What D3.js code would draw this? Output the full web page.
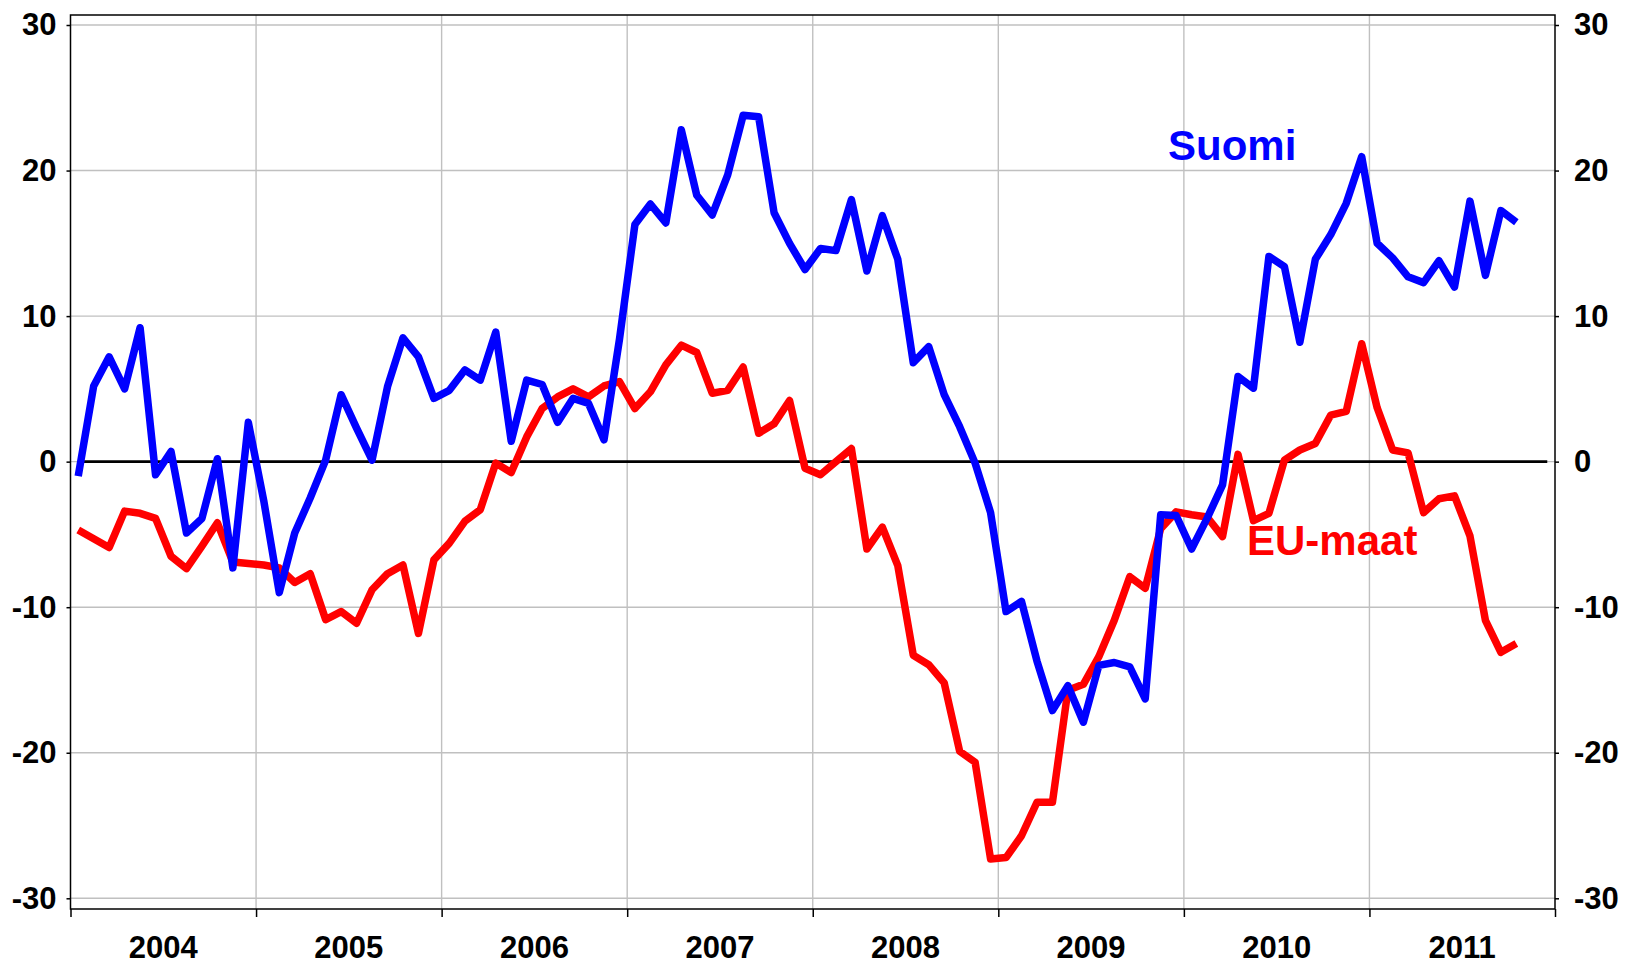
<!DOCTYPE html>
<html>
<head>
<meta charset="utf-8">
<script src="https://cdn.jsdelivr.net/npm/d3@7"></script>
<style>
  body { margin: 0; background: #fff; overflow: hidden; }
  svg { display: block; }
  svg text { font-family: "Liberation Sans", Arial, sans-serif; font-weight: bold; }
</style>
</head>
<body>
<svg id="chart"></svg>
<script>
// monthly values, Jan 2004 - Oct 2011
var suomi = [
  -1.0, 5.2, 7.2, 5.0, 9.2, -0.9, 0.7, -4.9, -3.9, 0.2, -7.3, 2.7,
  -2.7, -9.0, -4.9, -2.5, 0.1, 4.6, 2.3, 0.1, 5.15, 8.5, 7.2, 4.35,
  4.9, 6.3, 5.6, 8.9, 1.4, 5.6, 5.3, 2.7, 4.35, 4.0, 1.5, 8.4,
  16.3, 17.7, 16.4, 22.8, 18.3, 16.95, 19.7, 23.8, 23.7, 17.1, 15.0, 13.2,
  14.65, 14.5, 18.0, 13.1, 16.9, 13.9, 6.8, 7.9, 4.6, 2.4, -0.1, -3.5,
  -10.3, -9.6, -13.7, -17.1, -15.4, -17.9, -14.0, -13.8, -14.1, -16.3, -3.65, -3.7,
  -6.0, -3.9, -1.6, 5.85, 5.05, 14.1, 13.4, 8.2, 13.9, 15.6, 17.75, 20.95,
  15.0, 14.0, 12.7, 12.3, 13.8, 12.0, 17.9, 12.8, 17.25, 16.45
];
var euMaat = [
  -4.7, -5.3, -5.9, -3.4, -3.55, -3.9, -6.5, -7.35, -5.8, -4.2, -6.9, -7.0,
  -7.1, -7.3, -8.3, -7.7, -10.85, -10.3, -11.1, -8.8, -7.7, -7.1, -11.8, -6.75,
  -5.6, -4.1, -3.3, -0.1, -0.75, 1.7, 3.65, 4.45, 5.0, 4.45, 5.2, 5.5,
  3.65, 4.8, 6.65, 8.0, 7.5, 4.7, 4.9, 6.5, 1.95, 2.6, 4.2, -0.45,
  -0.9, 0.0, 0.9, -6.0, -4.5, -7.15, -13.3, -13.95, -15.2, -19.9, -20.65, -27.3,
  -27.2, -25.7, -23.4, -23.4, -15.7, -15.3, -13.4, -10.9, -7.9, -8.7, -4.6, -3.45,
  -3.65, -3.8, -5.15, 0.5, -4.05, -3.55, 0.1, 0.8, 1.25, 3.2, 3.45, 8.1,
  3.7, 0.8, 0.6, -3.5, -2.55, -2.35, -5.1, -10.9, -13.1, -12.5
];
var years = [2004, 2005, 2006, 2007, 2008, 2009, 2010, 2011];
var yTicks = [-30, -20, -10, 0, 10, 20, 30];
var zeroLine = d3.range(96).map(function () { return 0; });

var width = 1636, height = 965;
var plot = { left: 70.5, right: 1555, top: 15, bottom: 909 };

var svg = d3.select("#chart").attr("width", width).attr("height", height);

var x = d3.scaleLinear().domain([0, years.length * 12]).range([plot.left, plot.right]);
var y = d3.scaleLinear().domain([-30, 30]).range([898.3, 25]);

// grid
svg.append("g").selectAll("line").data(yTicks).enter().append("line")
  .attr("x1", plot.left).attr("x2", plot.right)
  .attr("y1", function (d) { return y(d); }).attr("y2", function (d) { return y(d); })
  .attr("stroke", "#c0c0c0").attr("stroke-width", 1.4);
svg.append("g").selectAll("line").data(years.slice(1)).enter().append("line")
  .attr("x1", function (d, i) { return x((i + 1) * 12); })
  .attr("x2", function (d, i) { return x((i + 1) * 12); })
  .attr("y1", plot.top).attr("y2", plot.bottom)
  .attr("stroke", "#c0c0c0").attr("stroke-width", 1.4);

// axes
var fmt = function (d) { return String(d); };
var yLeft = d3.axisLeft(y).tickValues(yTicks).tickSize(4).tickPadding(10).tickFormat(fmt);
var yRight = d3.axisRight(y).tickValues(yTicks).tickSize(4).tickPadding(15).tickFormat(fmt);
var xAxis = d3.axisBottom(x).tickValues(d3.range(0, 97, 12)).tickSize(8).tickFormat("");

function styleAxis(g) {
  g.select(".domain").remove();
  g.selectAll(".tick line").attr("stroke", "#000").attr("stroke-width", 1.5);
  g.selectAll(".tick text").attr("fill", "#000").style("font-size", "31px");
}
svg.append("g").attr("transform", "translate(" + plot.left + ",0)").call(yLeft).call(styleAxis);
svg.append("g").attr("transform", "translate(" + plot.right + ",0)").call(yRight).call(styleAxis);
svg.append("g").attr("transform", "translate(0," + plot.bottom + ")").call(xAxis).call(styleAxis);

svg.append("g").selectAll("text").data(years).enter().append("text")
  .attr("x", function (d, i) { return x(i * 12 + 6); })
  .attr("y", 958)
  .attr("text-anchor", "middle")
  .style("font-size", "31px")
  .text(function (d) { return d; });

// frame
svg.append("rect")
  .attr("x", plot.left).attr("y", plot.top)
  .attr("width", plot.right - plot.left).attr("height", plot.bottom - plot.top)
  .attr("fill", "none").attr("stroke", "#000").attr("stroke-width", 1.5);

var line = d3.line()
  .x(function (d, i) { return x(i + 0.5); })
  .y(function (d) { return y(d); });

svg.append("path").datum(zeroLine).attr("d", line)
  .attr("fill", "none").attr("stroke", "#000").attr("stroke-width", 2.8);

svg.append("path").datum(euMaat).attr("d", line)
  .attr("fill", "none").attr("stroke", "#ff0000").attr("stroke-width", 7.5)
  .attr("stroke-linejoin", "round");
svg.append("path").datum(suomi).attr("d", line)
  .attr("fill", "none").attr("stroke", "#0000ff").attr("stroke-width", 7.5)
  .attr("stroke-linejoin", "round");

// series labels
svg.append("text").attr("x", 1168).attr("y", 160)
  .attr("fill", "#0000ff").style("font-size", "42px").text("Suomi");
svg.append("text").attr("x", 1247).attr("y", 555)
  .attr("fill", "#ff0000").style("font-size", "42px").text("EU-maat");
</script>
</body>
</html>
